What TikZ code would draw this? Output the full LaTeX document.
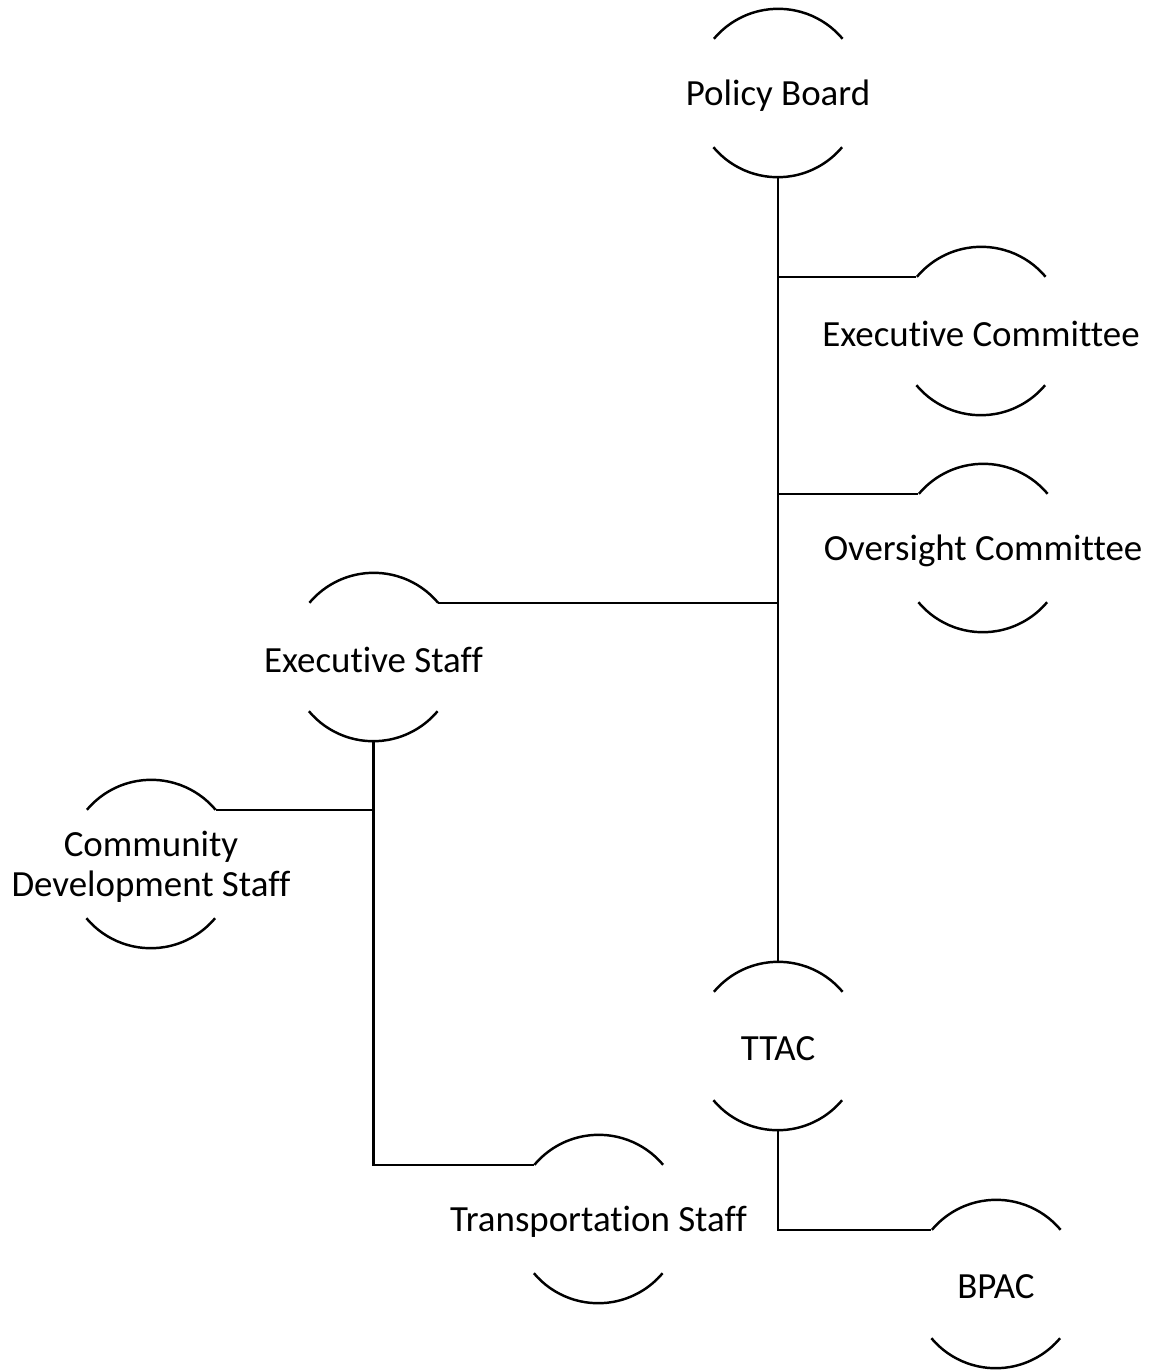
\documentclass[tikz,border=0pt]{standalone}
\usepackage{fontspec}
\setmainfont[Ligatures=NoCommon]{Carlito}
\usetikzlibrary{calc,positioning}

\begin{document}
\begin{tikzpicture}
      [x=0.02cm, y=-0.02cm,
        unit/.style={
          circle,
          minimum size=3.36cm,
          inner sep=0pt},
        every label/.style={
          font=\fontsize{21}{23}\selectfont,
          align=center,
          yshift=-0.05cm},
        line/.style={draw, line width=1.4pt},]
      \useasboundingbox (0,0) rectangle (1151,1370);
      % units
      \node[unit, label=center:{Policy Board}] (board) at (778,93) {};
      \node[unit, label=center:{Executive Committee}] (execcom) at (981,331) {};
      \node[unit, label=center:{Oversight Committee}] (oversight) at (983,548) {};
      \node[unit, label=center:{Executive Staff}] (execstaff) at (373.5,657) {};
      \node[unit, label=center:{Community\\Development Staff}] (community) at (151,864) {};
      \node[unit, label=center:{TTAC}] (ttac) at (778,1046) {};
      \node[unit, label=center:{Transportation Staff}] (transport) at (598.5,1219) {};
      \node[unit, label=center:{BPAC}] (bpac) at (996,1284) {};
      % top and bottom arcs
      \foreach \u in {board,execcom,oversight,execstaff,community,ttac,transport,bpac}
        \path[line] (\u.40) arc[start angle=40, end angle=140, radius=1.68cm]
          (\u.220) arc[start angle=220, end angle=320, radius=1.68cm];
      % connectors
      \path[line] (board.south) -- (ttac.north);
      \path[line] (execcom.140) -- (execcom.140 -| board.south);
      \path[line] (oversight.140) -- (oversight.140 -| board.south);
      \path[line] (execstaff.40) -- (execstaff.40 -| board.south);
      \path[line] (community.40) -- (community.40 -| execstaff.south);
      \path[line] (execstaff.south) |- (transport.140);
      \path[line] (ttac.south) |- (bpac.140);
    \end{tikzpicture}
\end{document}
